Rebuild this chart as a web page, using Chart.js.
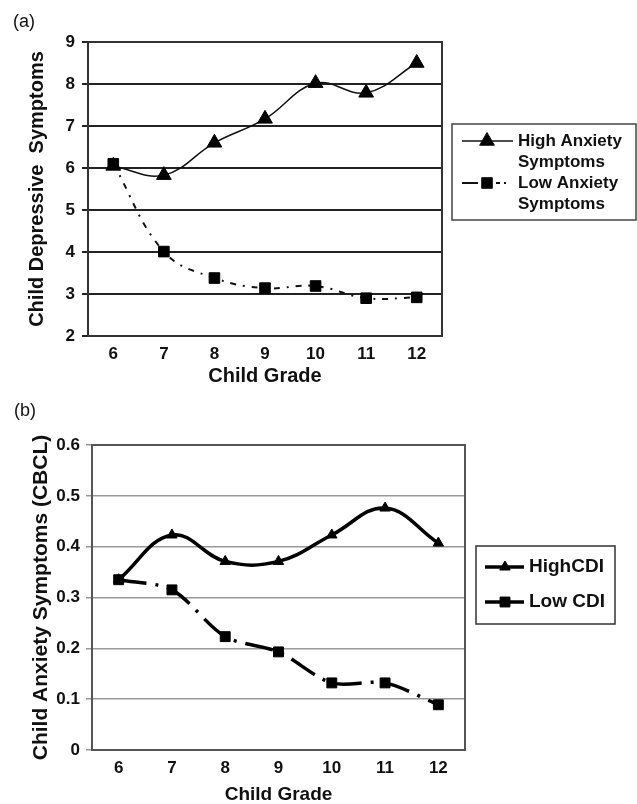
<!DOCTYPE html>
<html>
<head>
<meta charset="utf-8">
<script src="https://cdn.jsdelivr.net/npm/chart.js@4.4.0/dist/chart.umd.min.js"></script>
<style>
  body { margin: 0; background: #fff; width: 637px; height: 804px; position: relative; overflow: hidden;
         font-family: 'Liberation Sans', Arial, sans-serif; }
  canvas { position: absolute; left: 0; }
  .tag { position: absolute; font-size: 18px; color: #111; }
</style>
</head>
<body>
<canvas id="chartA" width="637" height="390" style="top:0"></canvas>
<canvas id="chartB" width="637" height="414" style="top:390px"></canvas>
<div class="tag" style="left:13px;top:11px">(a)</div>
<div class="tag" style="left:14px;top:400px">(b)</div>

<script>
'use strict';

// data
var grades = ['6', '7', '8', '9', '10', '11', '12'];

var highAnxiety = [6.05, 5.83, 6.60, 7.17, 8.02, 7.79, 8.50];
var lowAnxiety  = [6.10, 4.01, 3.38, 3.14, 3.19, 2.90, 2.92];
var legendA     = [['High Anxiety', 'Symptoms'], ['Low Anxiety', 'Symptoms']];
var yTicksA     = [2, 3, 4, 5, 6, 7, 8, 9];

var highCDI = [0.335, 0.423, 0.371, 0.371, 0.423, 0.476, 0.407];
var lowCDI  = [0.335, 0.315, 0.223, 0.193, 0.132, 0.132, 0.089];
var legendB = [['HighCDI'], ['Low CDI']];
var yTicksB = [0, 0.1, 0.2, 0.3, 0.4, 0.5, 0.6];

Chart.defaults.font.family = "'Liberation Sans', Arial, sans-serif";
Chart.defaults.color = '#111';

// marker drawing for the boxed legend
function drawMarker(ctx, style, r, x, y) {
  ctx.beginPath();
  if (style === 'triangle') {
    ctx.moveTo(x, y - r);
    ctx.lineTo(x + r * 0.866, y + r * 0.5);
    ctx.lineTo(x - r * 0.866, y + r * 0.5);
    ctx.closePath();
  } else {
    var s = r * Math.SQRT1_2;
    ctx.rect(x - s, y - s, 2 * s, 2 * s);
  }
  ctx.fill();
  ctx.stroke();
}

// frame round the plot area
var plotFrame = {
  id: 'plotFrame',
  beforeDatasetsDraw: function (chart, args, opts) {
    var a = chart.chartArea, ctx = chart.ctx;
    ctx.save();
    ctx.strokeStyle = opts.color;
    ctx.lineWidth = opts.width;
    ctx.strokeRect(a.left, a.top, a.right - a.left, a.bottom - a.top);
    ctx.restore();
  }
};

// legend in a bordered box on the right
var boxLegend = {
  id: 'boxLegend',
  afterDraw: function (chart, args, opts) {
    var ctx = chart.ctx;
    ctx.save();
    ctx.strokeStyle = opts.borderColor;
    ctx.lineWidth = opts.borderWidth;
    ctx.setLineDash([]);
    ctx.strokeRect(opts.x, opts.y, opts.w, opts.h);
    ctx.font = opts.font;
    ctx.textBaseline = 'middle';
    chart.data.datasets.forEach(function (ds, i) {
      var y = opts.rows[i];
      ctx.strokeStyle = ds.borderColor;
      ctx.lineWidth = ds.borderWidth;
      ctx.setLineDash(opts.sampleDash[i]);
      ctx.beginPath();
      ctx.moveTo(opts.lineX0, y);
      ctx.lineTo(opts.lineX1, y);
      ctx.stroke();
      ctx.setLineDash([]);
      ctx.lineWidth = 1;
      ctx.fillStyle = ds.pointBackgroundColor;
      drawMarker(ctx, ds.pointStyle, ds.pointRadius, opts.markX, y);
      ctx.fillStyle = '#111';
      opts.labels[i].forEach(function (t, k) {
        ctx.fillText(t, opts.textX, y + k * opts.lineGap);
      });
    });
    ctx.restore();
  }
};

//---(a)
var configA = {
  type: 'line',
  data: {
    labels: grades,
    datasets: [{
      label: 'High Anxiety Symptoms',
      data: highAnxiety,
      borderColor: '#111',
      borderWidth: 1.5,
      tension: 0.4,
      pointStyle: 'triangle',
      pointRadius: 8.5,
      pointBackgroundColor: '#000',
      pointBorderColor: '#000',
      pointBorderWidth: 1,
      order: 1
    }, {
      label: 'Low Anxiety Symptoms',
      data: lowAnxiety,
      borderColor: '#111',
      borderWidth: 2,
      borderDash: [6, 7, 2, 7],
      tension: 0.4,
      pointStyle: 'rect',
      pointRadius: 7.5,
      pointBackgroundColor: '#000',
      pointBorderColor: '#000',
      pointBorderWidth: 1,
      order: 0
    }]
  },
  options: {
    responsive: false,
    animation: false,
    layout: { padding: { top: 42, right: 195, left: 0, bottom: 0 } },
    plugins: {
      legend: { display: false },
      tooltip: { enabled: false },
      plotFrame: { color: '#333', width: 2 },
      boxLegend: {
        x: 452, y: 124, w: 184, h: 96,
        borderColor: '#444', borderWidth: 1.5,
        font: "bold 17px 'Liberation Sans', Arial, sans-serif",
        rows: [141, 183], lineGap: 21,
        lineX0: 462, lineX1: 513, markX: 487, textX: 518,
        sampleDash: [[], [16, 18, 4, 4, 2, 8]],
        labels: legendA
      }
    },
    scales: {
      x: {
        offset: true,
        grid: { display: false, drawTicks: false },
        border: { display: false },
        ticks: { font: { size: 17, weight: 'bold' }, padding: 8 },
        title: { display: true, text: 'Child Grade', font: { size: 20, weight: 'bold', lineHeight: 1 }, padding: { top: 0, bottom: 4 } },
        afterFit: function (s) { s.height = 54; }
      },
      y: {
        min: yTicksA[0],
        max: yTicksA[yTicksA.length - 1],
        afterBuildTicks: function (s) { s.ticks = yTicksA.map(function (v) { return { value: v }; }); },
        grid: { color: '#222', lineWidth: 2, tickLength: 6 },
        border: { display: false },
        ticks: { font: { size: 17, weight: 'bold' }, padding: 7 },
        title: { display: true, text: 'Child Depressive  Symptoms', font: { size: 20, weight: 'bold', lineHeight: 1 }, padding: { top: 27, bottom: 0 } },
        afterFit: function (s) { s.width = 88; }
      }
    }
  },
  plugins: [plotFrame, boxLegend]
};
window.chartA = new Chart(document.getElementById('chartA').getContext('2d'), configA);

//---(b)
var configB = {
  type: 'line',
  data: {
    labels: grades,
    datasets: [{
      label: 'HighCDI',
      data: highCDI,
      borderColor: '#000',
      borderWidth: 3.5,
      tension: 0.4,
      pointStyle: 'triangle',
      pointRadius: 6,
      pointBackgroundColor: '#000',
      pointBorderColor: '#000',
      pointBorderWidth: 1,
      order: 1
    }, {
      label: 'Low CDI',
      data: lowCDI,
      borderColor: '#000',
      borderWidth: 3.5,
      borderDash: [28, 9, 3, 9],
      tension: 0.3,
      pointStyle: 'rect',
      pointRadius: 7,
      pointBackgroundColor: '#000',
      pointBorderColor: '#000',
      pointBorderWidth: 1,
      order: 0
    }]
  },
  options: {
    responsive: false,
    animation: false,
    layout: { padding: { top: 55, right: 172, left: 0, bottom: 0 } },
    plugins: {
      legend: { display: false },
      tooltip: { enabled: false },
      plotFrame: { color: '#555', width: 2 },
      boxLegend: {
        x: 476, y: 156, w: 139, h: 78,
        borderColor: '#333', borderWidth: 1.5,
        font: "bold 19px 'Liberation Sans', Arial, sans-serif",
        rows: [177, 212], lineGap: 22,
        lineX0: 485, lineX1: 524, markX: 505, textX: 529,
        sampleDash: [[], []],
        labels: legendB
      }
    },
    scales: {
      x: {
        offset: true,
        grid: { display: false, drawTicks: false },
        border: { display: false },
        ticks: { font: { size: 17, weight: 'bold' }, padding: 8 },
        title: { display: true, text: 'Child Grade', font: { size: 19, weight: 'bold', lineHeight: 1 }, padding: { top: 0, bottom: 0 } },
        afterFit: function (s) { s.height = 54; }
      },
      y: {
        min: yTicksB[0],
        max: yTicksB[yTicksB.length - 1],
        afterBuildTicks: function (s) { s.ticks = yTicksB.map(function (v) { return { value: v }; }); },
        grid: { color: '#999', lineWidth: 1.5, tickLength: 6 },
        border: { display: false },
        ticks: { font: { size: 17, weight: 'bold' }, padding: 6,
                 callback: function (v) { return String(Math.round(v * 10) / 10); } },
        title: { display: true, text: 'Child Anxiety Symptoms (CBCL)', font: { size: 21, weight: 'bold', lineHeight: 1 }, padding: { top: 31, bottom: 0 } },
        afterFit: function (s) { s.width = 92; }
      }
    }
  },
  plugins: [plotFrame, boxLegend]
};
window.chartB = new Chart(document.getElementById('chartB').getContext('2d'), configB);
</script>
</body>
</html>
